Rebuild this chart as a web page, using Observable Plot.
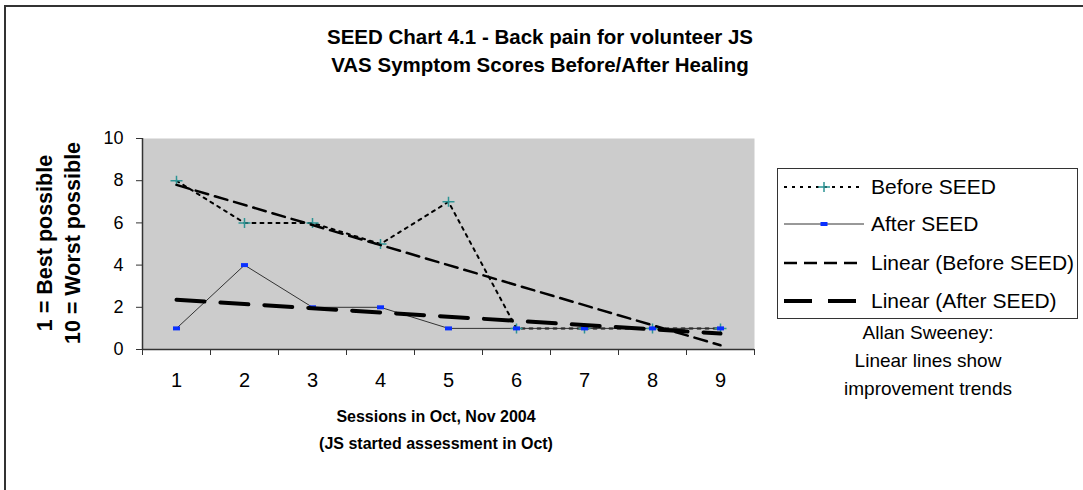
<!DOCTYPE html>
<html><head><meta charset="utf-8">
<script src="https://cdn.jsdelivr.net/npm/d3@7"></script>
<script src="https://cdn.jsdelivr.net/npm/@observablehq/plot@0.6"></script>
<style>
html,body{margin:0;padding:0;background:#fff;overflow:hidden;}
#wrap{position:relative;width:1083px;height:490px;overflow:hidden;font-family:"Liberation Sans",Arial,sans-serif;color:#000;}
#frame{position:absolute;left:4px;top:5px;width:1200px;height:600px;border:2px solid #333;box-sizing:border-box;}
#chart{position:absolute;left:0;top:0;}
.t{position:absolute;white-space:nowrap;transform:translate(-50%,-50%);line-height:1;}
.b{font-weight:bold;}
.rot{transform:translate(-50%,-50%) rotate(-90deg);}
#legend{position:absolute;left:777px;top:168px;width:301px;height:151px;border:1px solid #333;box-sizing:border-box;background:#fff;}
.row{position:absolute;left:0;height:30px;display:flex;align-items:center;}
.row span{font-size:21px;margin-left:6px;white-space:nowrap;}
</style></head><body>
<div id="wrap"><div id="frame"></div><div id="chart"></div></div>
<script>
// ---- data ----
const sessions = [1, 2, 3, 4, 5, 6, 7, 8, 9];
const beforeSeed = [8, 6, 6, 5, 7, 1, 1, 1, 1];
const afterSeed = [1, 4, 2, 2, 1, 1, 1, 1, 1];
const yTicks = [0, 2, 4, 6, 8, 10];
const seriesNames = ["Before SEED", "After SEED", "Linear (Before SEED)", "Linear (After SEED)"];
const titleLines = ["SEED Chart 4.1 - Back pain for volunteer JS", "VAS Symptom Scores Before/After Healing"];
const xTitleLines = ["Sessions in Oct, Nov 2004", "(JS started assessment in Oct)"];
const yTitleLines = ["1 = Best possible", "10 = Worst possible"];
const noteLines = ["Allan Sweeney:", "Linear lines show", "improvement trends"];

const before = sessions.map((s, i) => ({session: s, score: beforeSeed[i]}));
const after = sessions.map((s, i) => ({session: s, score: afterSeed[i]}));

// ---- styles ----
const TEAL = "#2e9494", BLUE = "#0a30ff";
const st = [
  {stroke: "#000", strokeWidth: 2, dash: "3,5", marker: "plus"},
  {stroke: "#333", strokeWidth: 1, dash: null, marker: "rect"},
  {stroke: "#000", strokeWidth: 2.5, dash: "13,7", marker: null},
  {stroke: "#000", strokeWidth: 4, dash: "28,16", marker: null}
];
const plusSymbol = {draw(ctx) { ctx.moveTo(-6, 0); ctx.lineTo(6, 0); ctx.moveTo(0, -5); ctx.lineTo(0, 5); }};
const rectSymbol = {draw(ctx) { ctx.rect(-3.5, -2, 7, 4); }};

const W = 1083, H = 490;
const boundaries = d3.range(0.5, 10, 1);
const chart = Plot.plot({
  width: W, height: H,
  marginLeft: 142, marginRight: W - 754, marginTop: 138, marginBottom: H - 349,
  style: {fontFamily: "Liberation Sans, Arial, sans-serif", background: "transparent", color: "#000", overflow: "visible"},
  x: {type: "linear", domain: [0.5, 9.5]},
  y: {domain: [0, 10]},
  marks: [
    Plot.frame({fill: "#cccccc", stroke: "none"}),
    Plot.axisY({ticks: yTicks, tickSize: 6, tickPadding: 13, label: null, fontSize: 18, stroke: "#333"}),
    Plot.axisX({ticks: boundaries, tickSize: 6, tickFormat: () => "", label: null, stroke: "#333"}),
    Plot.axisX({ticks: sessions, tickSize: 0, tickPadding: 23, label: null, fontSize: 20}),
    Plot.ruleY([0], {stroke: "#333", strokeWidth: 1.5}),
    Plot.ruleX([0.5], {stroke: "#333", strokeWidth: 1.5}),
    Plot.line(before, {x: "session", y: "score", stroke: st[0].stroke, strokeWidth: st[0].strokeWidth, strokeDasharray: st[0].dash}),
    Plot.line(after, {x: "session", y: "score", stroke: st[1].stroke, strokeWidth: st[1].strokeWidth}),
    Plot.dot(before, {x: "session", y: "score", symbol: plusSymbol, fill: "none", stroke: TEAL, strokeWidth: 1.5}),
    Plot.dot(after, {x: "session", y: "score", symbol: rectSymbol, fill: BLUE, stroke: "none"}),
    Plot.linearRegressionY(before, {x: "session", y: "score", ci: 0, stroke: st[2].stroke, strokeWidth: st[2].strokeWidth, strokeDasharray: st[2].dash}),
    Plot.linearRegressionY(after, {x: "session", y: "score", ci: 0, stroke: st[3].stroke, strokeWidth: st[3].strokeWidth, strokeDasharray: st[3].dash})
  ]
});
document.getElementById("chart").appendChild(chart);

const wrap = document.getElementById("wrap");
function addText(txt, x, y, size, cls) {
  const d = document.createElement("div");
  d.className = "t " + (cls || "");
  d.style.left = x + "px"; d.style.top = y + "px"; d.style.fontSize = size + "px";
  d.textContent = txt;
  wrap.appendChild(d);
}
titleLines.forEach((t, i) => addText(t, 540, 37 + i * 28, 20.5, "b"));
xTitleLines.forEach((t, i) => addText(t, 436, 417 + i * 27, 16, "b"));
yTitleLines.forEach((t, i) => addText(t, 46 + i * 28, 243, 21.5, "b rot"));
noteLines.forEach((t, i) => addText(t, 928, 332 + i * 28, 19, ""));

// legend
const lg = document.createElement("div");
lg.id = "legend";
wrap.appendChild(lg);
const rowY = [18, 55, 94, 132];
seriesNames.forEach((name, i) => {
  const r = document.createElement("div");
  r.className = "row";
  r.style.top = (rowY[i] - 15) + "px";
  const s = st[i];
  let svg = `<svg width="82" height="30" style="margin-left:5px"><line x1="1" x2="81" y1="15" y2="15" stroke="${s.stroke}" stroke-width="${s.strokeWidth}" ${s.dash ? `stroke-dasharray="${s.dash}"` : ""}/>`;
  if (s.marker === "plus") svg += `<path d="M35,15h12M41,10v10" stroke="${TEAL}" stroke-width="1.5"/>`;
  if (s.marker === "rect") svg += `<rect x="37.5" y="13" width="7" height="4" fill="${BLUE}"/>`;
  svg += `</svg>`;
  r.innerHTML = svg + `<span>${name}</span>`;
  lg.appendChild(r);
});
</script>
</body></html>
